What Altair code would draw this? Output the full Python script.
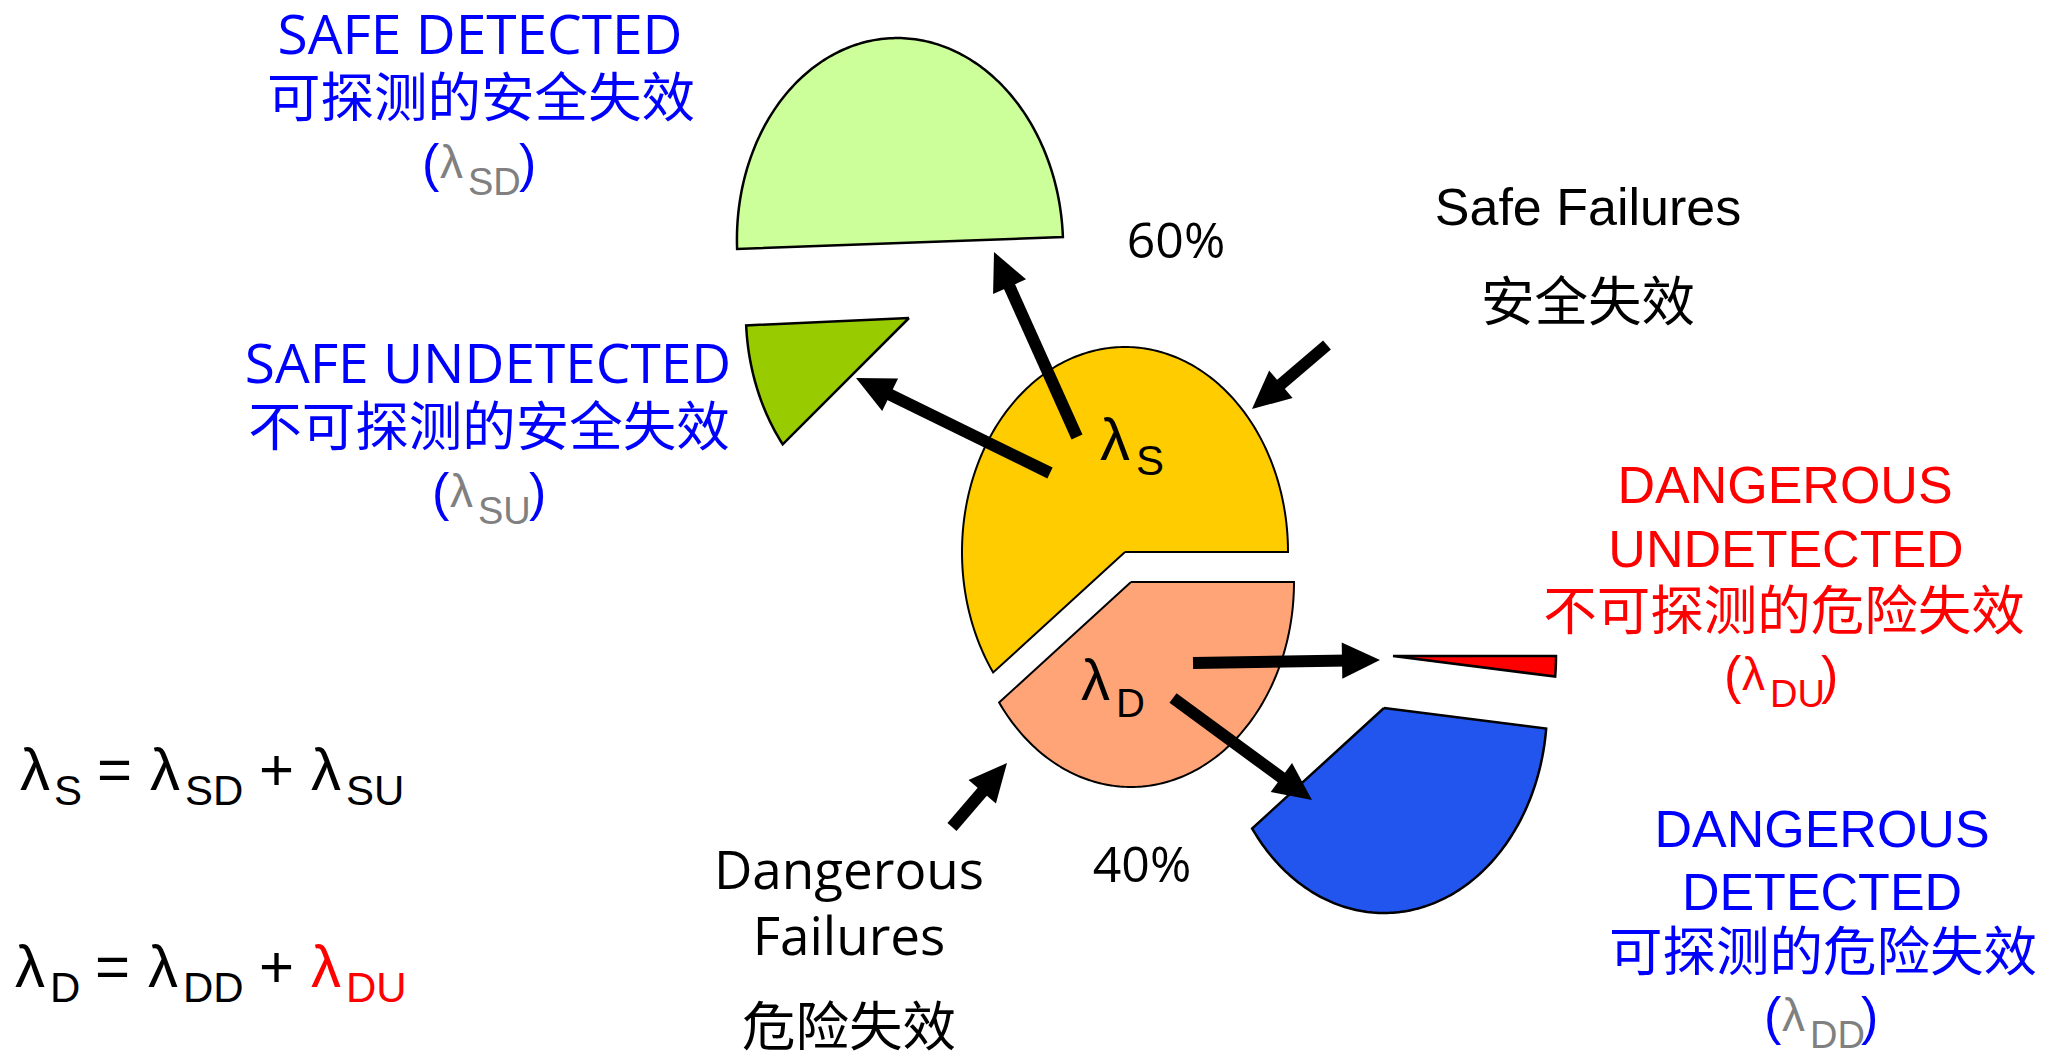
import numpy as np
import pandas as pd
import altair as alt

W, H = 2059, 1057

# ---------------- data ----------------
pie_keys = ["S", "D"]
pie_share = [60.0, 40.0]                 # % of all failures (safe / dangerous)
sub_keys = ["SD", "SU", "DD", "DU"]
sub_share = [50.0, 10.0, 38.4, 1.6]      # % of all failures

pct_labels = ["60%", "40%"]

block_sd = ["SAFE DETECTED", "可探测的安全失效"]
block_su = ["SAFE UNDETECTED", "不可探测的安全失效"]
block_du = ["DANGEROUS", "UNDETECTED", "不可探测的危险失效"]
block_dd = ["DANGEROUS", "DETECTED", "可探测的危险失效"]
block_safe = ["Safe Failures", "安全失效"]
block_dang = ["Dangerous", "Failures", "危险失效"]
lam = "λ"

# ---------------- layout / styles ----------------
RX, RY = 163, 205
slice_layout = {
    "S":  dict(cx=1125, cy=552, rot=0.0, fill="#FFCC00", sw=2),
    "D":  dict(cx=1131, cy=582, rot=0.0, fill="#FFA477", sw=2),
    "SD": dict(cx=900,  cy=243, rot=2.1, fill="#CCFF99", sw=2.5),
    "SU": dict(cx=909,  cy=318, rot=2.6, fill="#99CC00", sw=2.5),
    "DD": dict(cx=1384, cy=708, rot=0.0, fill="#2255EE", sw=2.5),
    "DU": dict(cx=1393, cy=656, rot=0.0, fill="#FF0000", sw=2.5),
}

def spans(keys, shares):
    out, acc = {}, 0.0
    for k, s in zip(keys, shares):
        a0 = acc / 100 * 360
        acc += s
        out[k] = (a0, acc / 100 * 360)
    return out

angles = {**spans(pie_keys, pie_share), **spans(sub_keys, sub_share)}

rows = []
for k, (a0, a1) in angles.items():
    L = slice_layout[k]
    r = np.radians(L["rot"])
    n = max(3, int(a1 - a0) + 1)
    ts = np.radians(np.linspace(a0, a1, n))
    pts = [(0.0, 0.0)] + [(RX * np.cos(t), RY * np.sin(t)) for t in ts] + [(0.0, 0.0)]
    for i, (lx, ly) in enumerate(pts):
        xr = lx * np.cos(r) - ly * np.sin(r)
        yr = lx * np.sin(r) + ly * np.cos(r)
        rows.append(dict(key=k, i=i, x=L["cx"] + xr, y=L["cy"] - yr))
poly = pd.DataFrame(rows)

xs = alt.Scale(domain=[0, W], range=[0, W], nice=False, zero=False)
ys = alt.Scale(domain=[0, H], range=[0, H], nice=False, zero=False)
X = lambda f: alt.X(f, scale=xs, axis=None)
Y = lambda f: alt.Y(f, scale=ys, axis=None)

layers = []
for k in ["S", "D", "SD", "SU", "DD", "DU"]:
    L = slice_layout[k]
    layers.append(
        alt.Chart(poly[poly.key == k]).mark_line(
            fill=L["fill"], stroke="black", strokeWidth=L["sw"], strokeJoin="miter"
        ).encode(x=X("x:Q"), y=Y("y:Q"), order=alt.Order("i:Q"))
    )

# arrows
arrow_from = [(1077, 437), (1050, 473), (1327, 345), (1193, 663), (1173, 698), (952, 827)]
arrow_to = [(994, 252), (856, 378), (1252, 409), (1380, 660), (1312, 800), (1007, 763)]
HEAD = 19  # half size of head symbol
arows = []
for (x0, y0), (x1, y1) in zip(arrow_from, arrow_to):
    dx, dy = x1 - x0, y1 - y0
    d = np.hypot(dx, dy)
    ux, uy = dx / d, dy / d
    ang = (np.degrees(np.arctan2(dx, -dy)) + 360) % 360
    arows.append(dict(x0=x0, y0=y0, xe=x1 - ux * (2 * HEAD - 6), ye=y1 - uy * (2 * HEAD - 6),
                      hx=x1 - ux * HEAD, hy=y1 - uy * HEAD, ang=ang))
adf = pd.DataFrame(arows)
layers.append(
    alt.Chart(adf).mark_rule(color="black", strokeWidth=12, strokeCap="butt").encode(
        x=X("x0:Q"), y=Y("y0:Q"), x2="xe:Q", y2="ye:Q")
)
layers.append(
    alt.Chart(adf).mark_point(shape="M0,-1L0.95,1L-0.95,1Z", filled=True, color="black",
                              opacity=1, size=(2 * HEAD) ** 2, strokeWidth=0).encode(
        x=X("hx:Q"), y=Y("hy:Q"), angle=alt.Angle("ang:Q", scale=None))
)

# texts
BLUE, RED, GRAY, BLACK = "#0000FF", "#FF0000", "#808080", "#000000"
F_UI = "Open Sans, Noto Sans CJK SC"
F_AR = "Liberation Sans, Arial, Noto Sans CJK SC"
F_CJK = "Noto Sans CJK SC"
CJK = 53.5

T = []  # text, x, y, size, color, font, align, baseline
def add(text, x, y, size, color, font, align="center", baseline="alphabetic"):
    T.append(dict(text=text, x=x, y=y, size=size, color=color, font=font, align=align, baseline=baseline))

add(block_sd[0], 480, 54, 55, BLUE, F_UI)
add(block_sd[1], 481, 101, CJK, BLUE, F_CJK, baseline="middle")
add(block_su[0], 488, 383, 55, BLUE, F_UI)
add(block_su[1], 489, 430, CJK, BLUE, F_CJK, baseline="middle")

def lam_label(x0, base, sub, pc, lc):
    add("(", x0, base + 3, 52, pc, F_AR, align="left")
    add(lam, x0 + 18, base, 46, lc, F_AR, align="left")
    add(sub, x0 + 46, base + 17, 38, lc, F_AR, align="left")
    add(")", x0 + 97, base + 3, 52, pc, F_AR, align="left")

lam_label(422, 178, "SD", BLUE, GRAY)
lam_label(432, 507, "SU", BLUE, GRAY)
lam_label(1724, 690, "DU", RED, RED)
lam_label(1764, 1031, "DD", BLUE, GRAY)

add(block_safe[0], 1588, 225, 52, BLACK, F_AR)
add(block_safe[1], 1588, 305, CJK, BLACK, F_CJK, baseline="middle")
add(pct_labels[0], 1176, 258, 50, BLACK, F_UI)
add(pct_labels[1], 1142, 882, 50, BLACK, F_UI)

add(block_du[0], 1785, 503, 52, RED, F_AR)
add(block_du[1], 1786, 567, 52, RED, F_AR)
add(block_du[2], 1784, 614, CJK, RED, F_CJK, baseline="middle")
add(block_dd[0], 1822, 847, 52, BLUE, F_AR)
add(block_dd[1], 1822, 910, 52, BLUE, F_AR)
add(block_dd[2], 1823, 955, CJK, BLUE, F_CJK, baseline="middle")

add(block_dang[0], 849, 889, 53, BLACK, F_UI)
add(block_dang[1], 849, 955, 53, BLACK, F_UI)
add(block_dang[2], 849, 1030, CJK, BLACK, F_CJK, baseline="middle")

# lambda symbols in the pie
add(lam, 1100, 460, 60, BLACK, F_AR, align="left")
add("S", 1136, 475, 42, BLACK, F_AR, align="left")
add(lam, 1081, 700, 58, BLACK, F_AR, align="left")
add("D", 1116, 717, 40, BLACK, F_AR, align="left")

# formulas
def formula(base, parts):
    for txt, x, sub, col in parts:
        add(txt, x, base + (15 if sub else 0), 42 if sub else 60, col, F_AR, align="left")

formula(790, [(lam, 20, False, BLACK), ("S", 54, True, BLACK), ("=", 97, False, BLACK),
              (lam, 150, False, BLACK), ("SD", 185, True, BLACK), ("+", 259, False, BLACK),
              (lam, 311, False, BLACK), ("SU", 346, True, BLACK)])
formula(987, [(lam, 15, False, BLACK), ("D", 50, True, BLACK), ("=", 95, False, BLACK),
              (lam, 148, False, BLACK), ("DD", 183, True, BLACK), ("+", 259, False, BLACK),
              (lam, 311, False, RED), ("DU", 346, True, RED)])

tdf = pd.DataFrame(T)
for (font, align, baseline), g in tdf.groupby(["font", "align", "baseline"]):
    layers.append(
        alt.Chart(g).mark_text(font=font, align=align, baseline=baseline).encode(
            x=X("x:Q"), y=Y("y:Q"), text="text:N",
            size=alt.Size("size:Q", scale=None),
            color=alt.Color("color:N", scale=None))
    )

chart = alt.layer(*layers).properties(
    width=W, height=H, padding=0, autosize="none", background="white"
).configure_view(stroke=None)

chart.save("out.html", embed_options={"renderer": "svg", "actions": False})
